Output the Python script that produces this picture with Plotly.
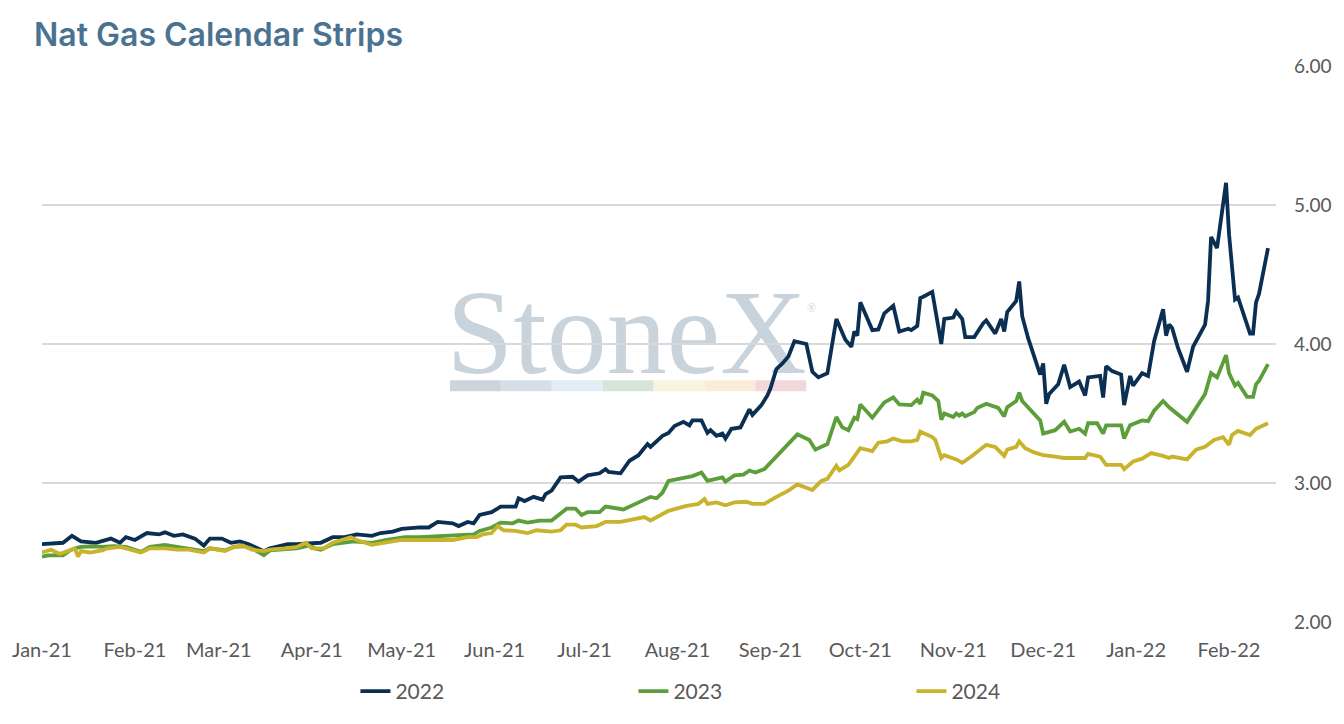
import plotly.graph_objects as go

# values ($/MMBtu calendar strip settles)
dates_2022 = [
    "2021-01-04", "2021-01-11", "2021-01-14", "2021-01-17", "2021-01-22", "2021-01-27", "2021-01-30",
    "2021-02-01", "2021-02-04", "2021-02-08", "2021-02-12", "2021-02-14", "2021-02-17", "2021-02-20", "2021-02-24", "2021-02-27",
    "2021-03-01", "2021-03-05", "2021-03-08", "2021-03-11", "2021-03-14", "2021-03-19", "2021-03-21", "2021-03-27", "2021-03-30",
    "2021-04-04", "2021-04-07", "2021-04-11", "2021-04-15", "2021-04-19", "2021-04-24", "2021-04-27",
    "2021-05-01", "2021-05-04", "2021-05-08", "2021-05-10", "2021-05-13", "2021-05-16", "2021-05-21", "2021-05-23", "2021-05-26", "2021-05-28", "2021-05-30",
    "2021-06-03", "2021-06-06", "2021-06-11", "2021-06-12", "2021-06-14", "2021-06-17", "2021-06-20", "2021-06-21", "2021-06-23", "2021-06-26", "2021-06-30",
    "2021-07-02", "2021-07-05", "2021-07-09", "2021-07-11", "2021-07-12", "2021-07-16", "2021-07-19", "2021-07-22", "2021-07-25", "2021-07-26", "2021-07-30",
    "2021-08-01", "2021-08-03", "2021-08-06", "2021-08-08", "2021-08-09", "2021-08-12", "2021-08-14", "2021-08-15", "2021-08-17", "2021-08-19", "2021-08-20", "2021-08-22", "2021-08-25", "2021-08-28", "2021-08-29",
    "2021-09-01", "2021-09-03", "2021-09-04", "2021-09-06", "2021-09-08", "2021-09-10", "2021-09-12", "2021-09-16", "2021-09-18", "2021-09-20", "2021-09-23", "2021-09-26", "2021-09-29",
    "2021-10-01", "2021-10-02", "2021-10-03", "2021-10-04", "2021-10-08", "2021-10-10", "2021-10-12", "2021-10-15", "2021-10-17", "2021-10-20", "2021-10-21", "2021-10-23", "2021-10-24", "2021-10-25", "2021-10-28", "2021-10-31",
    "2021-11-01", "2021-11-04", "2021-11-05", "2021-11-07", "2021-11-08", "2021-11-11", "2021-11-14", "2021-11-15", "2021-11-18", "2021-11-20", "2021-11-21", "2021-11-22", "2021-11-25", "2021-11-26", "2021-11-27", "2021-11-29",
    "2021-12-01", "2021-12-03", "2021-12-04", "2021-12-05", "2021-12-06", "2021-12-09", "2021-12-11", "2021-12-13", "2021-12-16", "2021-12-18", "2021-12-19", "2021-12-23", "2021-12-24", "2021-12-25", "2021-12-27", "2021-12-30", "2021-12-31",
    "2022-01-02", "2022-01-03", "2022-01-06", "2022-01-08", "2022-01-10", "2022-01-13", "2022-01-14", "2022-01-15", "2022-01-16", "2022-01-18", "2022-01-21", "2022-01-23", "2022-01-27", "2022-01-28", "2022-01-29", "2022-01-31",
    "2022-02-03", "2022-02-04", "2022-02-06", "2022-02-07", "2022-02-10", "2022-02-11", "2022-02-12", "2022-02-13", "2022-02-14", "2022-02-17",
]
strip_2022 = [
    2.56, 2.57, 2.62, 2.58, 2.57, 2.60, 2.57,
    2.61, 2.59, 2.64, 2.63, 2.645, 2.62, 2.63, 2.60, 2.55,
    2.60, 2.60, 2.57, 2.58, 2.56, 2.51, 2.53, 2.56, 2.56,
    2.57, 2.57, 2.61, 2.61, 2.63, 2.62, 2.64,
    2.65, 2.67, 2.68, 2.68, 2.68, 2.72, 2.71, 2.69, 2.72, 2.71, 2.77,
    2.79, 2.83, 2.83, 2.89, 2.87, 2.90, 2.88, 2.92, 2.945, 3.04, 3.045,
    3.01, 3.055, 3.07, 3.10, 3.08, 3.07, 3.16, 3.20, 3.28, 3.26, 3.34,
    3.36, 3.41, 3.44, 3.415, 3.45, 3.45, 3.36, 3.38, 3.34, 3.355, 3.32, 3.39, 3.40, 3.53, 3.49,
    3.56, 3.63, 3.68, 3.82, 3.86, 3.91, 4.02, 4.00, 3.80, 3.76, 3.79, 4.18, 4.03,
    3.98, 4.09, 4.06, 4.30, 4.10, 4.105, 4.22, 4.275, 4.09, 4.11, 4.10, 4.13, 4.33, 4.34, 4.375, 4.00,
    4.18, 4.19, 4.235, 4.18, 4.05, 4.05, 4.15, 4.17, 4.075, 4.18, 4.09, 4.23, 4.31, 4.45, 4.20, 4.04,
    3.90, 3.78, 3.86, 3.57, 3.64, 3.71, 3.85, 3.69, 3.73, 3.63, 3.76, 3.77, 3.615, 3.84, 3.805, 3.78, 3.56,
    3.77, 3.70, 3.79, 3.77, 4.02, 4.25, 4.06, 4.14, 4.115, 3.97, 3.80, 3.98, 4.14, 4.31, 4.77, 4.69,
    5.16, 4.79, 4.32, 4.335, 4.13, 4.075, 4.075, 4.30, 4.36, 4.69,
]

dates_2023 = [
    "2021-01-04", "2021-01-06", "2021-01-11", "2021-01-13", "2021-01-15", "2021-01-17", "2021-01-21", "2021-01-24", "2021-01-28",
    "2021-02-01", "2021-02-06", "2021-02-09", "2021-02-14", "2021-02-18", "2021-02-22", "2021-02-27",
    "2021-03-01", "2021-03-06", "2021-03-09", "2021-03-12", "2021-03-15", "2021-03-19", "2021-03-21", "2021-03-26", "2021-03-30",
    "2021-04-03", "2021-04-05", "2021-04-07", "2021-04-11", "2021-04-18", "2021-04-24", "2021-04-29",
    "2021-05-05", "2021-05-10", "2021-05-14", "2021-05-19", "2021-05-23", "2021-05-28", "2021-05-30",
    "2021-06-03", "2021-06-06", "2021-06-10", "2021-06-12", "2021-06-15", "2021-06-19", "2021-06-23", "2021-06-28",
    "2021-07-01", "2021-07-03", "2021-07-05", "2021-07-09", "2021-07-11", "2021-07-17", "2021-07-22", "2021-07-26", "2021-07-28", "2021-07-30",
    "2021-08-01", "2021-08-05", "2021-08-09", "2021-08-12", "2021-08-14", "2021-08-19", "2021-08-20", "2021-08-23", "2021-08-26", "2021-08-28", "2021-08-30",
    "2021-09-02", "2021-09-06", "2021-09-08", "2021-09-11", "2021-09-13", "2021-09-17", "2021-09-19", "2021-09-23", "2021-09-26", "2021-09-28", "2021-09-30",
    "2021-10-02", "2021-10-03", "2021-10-04", "2021-10-08", "2021-10-12", "2021-10-15", "2021-10-17", "2021-10-21", "2021-10-23", "2021-10-24", "2021-10-25", "2021-10-28", "2021-10-30", "2021-10-31",
    "2021-11-01", "2021-11-04", "2021-11-05", "2021-11-06", "2021-11-07", "2021-11-08", "2021-11-11", "2021-11-12", "2021-11-15", "2021-11-19", "2021-11-21", "2021-11-22", "2021-11-25", "2021-11-26", "2021-11-27",
    "2021-12-01", "2021-12-03", "2021-12-04", "2021-12-08", "2021-12-11", "2021-12-13", "2021-12-16", "2021-12-18", "2021-12-19", "2021-12-22", "2021-12-24", "2021-12-25", "2021-12-30", "2021-12-31",
    "2022-01-02", "2022-01-06", "2022-01-08", "2022-01-10", "2022-01-13", "2022-01-15", "2022-01-21", "2022-01-24", "2022-01-27", "2022-01-29", "2022-01-31",
    "2022-02-03", "2022-02-04", "2022-02-06", "2022-02-07", "2022-02-10", "2022-02-12", "2022-02-13", "2022-02-14", "2022-02-17",
]
strip_2023 = [
    2.47, 2.48, 2.48, 2.51, 2.53, 2.54, 2.545, 2.54, 2.545,
    2.54, 2.505, 2.54, 2.555, 2.54, 2.53, 2.51,
    2.53, 2.515, 2.54, 2.545, 2.53, 2.48, 2.515, 2.52, 2.53,
    2.55, 2.53, 2.52, 2.56, 2.58, 2.57, 2.59,
    2.61, 2.61, 2.615, 2.615, 2.62, 2.63, 2.655,
    2.68, 2.715, 2.71, 2.73, 2.715, 2.73, 2.73, 2.815,
    2.815, 2.77, 2.79, 2.79, 2.83, 2.81, 2.86, 2.90, 2.89, 2.93,
    3.015, 3.03, 3.05, 3.075, 3.015, 3.04, 3.01, 3.055, 3.06, 3.09, 3.075,
    3.10, 3.19, 3.24, 3.30, 3.35, 3.31, 3.24, 3.28, 3.475, 3.40, 3.38,
    3.47, 3.46, 3.565, 3.47, 3.58, 3.615, 3.565, 3.56, 3.60, 3.57, 3.65, 3.63, 3.59, 3.455,
    3.50, 3.475, 3.50, 3.485, 3.50, 3.48, 3.51, 3.54, 3.57, 3.54, 3.48, 3.545, 3.59, 3.65, 3.59,
    3.50, 3.45, 3.355, 3.38, 3.44, 3.37, 3.39, 3.355, 3.43, 3.43, 3.355, 3.415, 3.415, 3.32,
    3.415, 3.45, 3.445, 3.52, 3.59, 3.545, 3.44, 3.545, 3.64, 3.79, 3.76,
    3.92, 3.79, 3.70, 3.72, 3.62, 3.62, 3.71, 3.735, 3.855,
]

dates_2024 = [
    "2021-01-04", "2021-01-07", "2021-01-10", "2021-01-15", "2021-01-16", "2021-01-17", "2021-01-20", "2021-01-24", "2021-01-26", "2021-01-30",
    "2021-02-01", "2021-02-06", "2021-02-09", "2021-02-14", "2021-02-18", "2021-02-22", "2021-02-27",
    "2021-03-01", "2021-03-06", "2021-03-09", "2021-03-12", "2021-03-15", "2021-03-19", "2021-03-21", "2021-03-26", "2021-03-30",
    "2021-04-02", "2021-04-04", "2021-04-08", "2021-04-11", "2021-04-17", "2021-04-19", "2021-04-24", "2021-04-29",
    "2021-05-04", "2021-05-09", "2021-05-13", "2021-05-17", "2021-05-21", "2021-05-26", "2021-05-29", "2021-05-31",
    "2021-06-03", "2021-06-05", "2021-06-07", "2021-06-11", "2021-06-15", "2021-06-18", "2021-06-23", "2021-06-26", "2021-06-28",
    "2021-07-01", "2021-07-03", "2021-07-08", "2021-07-11", "2021-07-16", "2021-07-24", "2021-07-26",
    "2021-08-01", "2021-08-07", "2021-08-11", "2021-08-13", "2021-08-14", "2021-08-17", "2021-08-20", "2021-08-23", "2021-08-27", "2021-08-29",
    "2021-09-02", "2021-09-06", "2021-09-10", "2021-09-13", "2021-09-16", "2021-09-18", "2021-09-21", "2021-09-23", "2021-09-26", "2021-09-27", "2021-09-30",
    "2021-10-02", "2021-10-04", "2021-10-08", "2021-10-10", "2021-10-13", "2021-10-15", "2021-10-18", "2021-10-21", "2021-10-23", "2021-10-24", "2021-10-28", "2021-10-29", "2021-10-31",
    "2021-11-01", "2021-11-05", "2021-11-07", "2021-11-10", "2021-11-15", "2021-11-18", "2021-11-21", "2021-11-22", "2021-11-25", "2021-11-26", "2021-11-28",
    "2021-12-01", "2021-12-04", "2021-12-08", "2021-12-11", "2021-12-16", "2021-12-18", "2021-12-19", "2021-12-23", "2021-12-25", "2021-12-30", "2021-12-31",
    "2022-01-03", "2022-01-06", "2022-01-09", "2022-01-13", "2022-01-15", "2022-01-16", "2022-01-21", "2022-01-24", "2022-01-27", "2022-01-30",
    "2022-02-02", "2022-02-04", "2022-02-05", "2022-02-07", "2022-02-11", "2022-02-13", "2022-02-17",
]
strip_2024 = [
    2.50, 2.52, 2.49, 2.53, 2.47, 2.51, 2.50, 2.515, 2.53, 2.54,
    2.53, 2.50, 2.53, 2.53, 2.52, 2.52, 2.50,
    2.53, 2.51, 2.54, 2.55, 2.52, 2.51, 2.52, 2.53, 2.54,
    2.57, 2.53, 2.53, 2.57, 2.61, 2.59, 2.555, 2.575,
    2.59, 2.59, 2.59, 2.585, 2.59, 2.61, 2.61, 2.63,
    2.64, 2.69, 2.66, 2.655, 2.64, 2.66, 2.65, 2.66, 2.70,
    2.70, 2.68, 2.69, 2.72, 2.72, 2.755, 2.73,
    2.80, 2.835, 2.85, 2.885, 2.85, 2.86, 2.84, 2.86, 2.865, 2.85,
    2.85, 2.90, 2.945, 2.99, 2.97, 2.95, 3.015, 3.03, 3.125, 3.09, 3.13,
    3.19, 3.25, 3.23, 3.29, 3.30, 3.32, 3.30, 3.30, 3.31, 3.37, 3.33, 3.31, 3.18,
    3.20, 3.17, 3.145, 3.19, 3.275, 3.26, 3.195, 3.24, 3.26, 3.30, 3.25,
    3.22, 3.20, 3.19, 3.18, 3.18, 3.18, 3.21, 3.19, 3.13, 3.13, 3.10,
    3.155, 3.175, 3.215, 3.195, 3.18, 3.19, 3.17, 3.24, 3.26, 3.31,
    3.33, 3.275, 3.345, 3.375, 3.345, 3.39, 3.43,
]

series_names = ["2022", "2023", "2024"]
y_ticks = [2, 3, 4, 5, 6]

colors = ["#0b2f52", "#5b9e3a", "#c9b22c"]
text_grey = "#595959"
logo_strip = ["#cdd4db", "#d6dfe8", "#e3edf5", "#d6e4da", "#f8f4dd", "#fbecd8", "#f2d8da"]

fig = go.Figure()
for name, x, y, c in zip(series_names,
                         [dates_2022, dates_2023, dates_2024],
                         [strip_2022, strip_2023, strip_2024], colors):
    fig.add_trace(go.Scatter(x=x, y=y, name=name, mode="lines",
                             line=dict(color=c, width=3.8)))

# faint StoneX watermark behind the lines
fig.add_shape(type="rect", xref="paper", yref="paper",
              x0=0.3306, x1=0.6169, y0=0.484, y1=0.604,
              line=dict(width=0), fillcolor="rgba(0,0,0,0)", layer="below",
              label=dict(text="StoneX", textposition="middle center",
                         font=dict(family="Liberation Serif", size=120,
                                   color="#c9d3dc")))
seg = (0.6194 - 0.3306) / len(logo_strip)
for i, c in enumerate(logo_strip):
    fig.add_shape(type="rect", xref="paper", yref="paper",
                  x0=0.3306 + i * seg, x1=0.3306 + (i + 1) * seg,
                  y0=0.4152, y1=0.4346, line=dict(width=0),
                  fillcolor=c, layer="below")
fig.add_annotation(text="®", xref="paper", yref="paper", x=0.6234, y=0.5654,
                   showarrow=False, font=dict(family="Liberation Serif",
                                              size=12, color="#c9d3dc"))

fig.update_layout(
    width=1344, height=724,
    margin=dict(l=40, r=64, t=66, b=92),
    paper_bgcolor="white", plot_bgcolor="white",
    font=dict(family="Lato", color=text_grey),
    title=dict(text="Nat Gas Calendar Strips", x=34 / 1344, xanchor="left",
               y=1 - 35 / 724, yanchor="middle",
               font=dict(family="Inter", size=32, color="#4a7391",
                         weight=600)),
    legend=dict(orientation="h", x=0.254, xanchor="left", y=-0.125,
                yanchor="middle", entrywidth=233, font=dict(size=21)),
    xaxis=dict(type="date", range=["2021-01-04", "2022-02-19 16:00"],
               tick0="2021-01-04", dtick="M1", tickformat="%b-%y",
               showgrid=False, zeroline=False, showline=False,
               ticklabelstandoff=14, tickfont=dict(size=20)),
    yaxis=dict(side="right", range=[2, 6], tickvals=y_ticks,
               tickformat=".2f", gridcolor="#d9d9d9", gridwidth=1.5,
               zeroline=False, showline=False, ticklabelstandoff=17,
               tickfont=dict(size=19)),
)

# drop the page's default body margin so the figure sits flush in the window
fig.write_html("out.html", config={"displayModeBar": False},
               post_script="document.body.style.margin='0';")
